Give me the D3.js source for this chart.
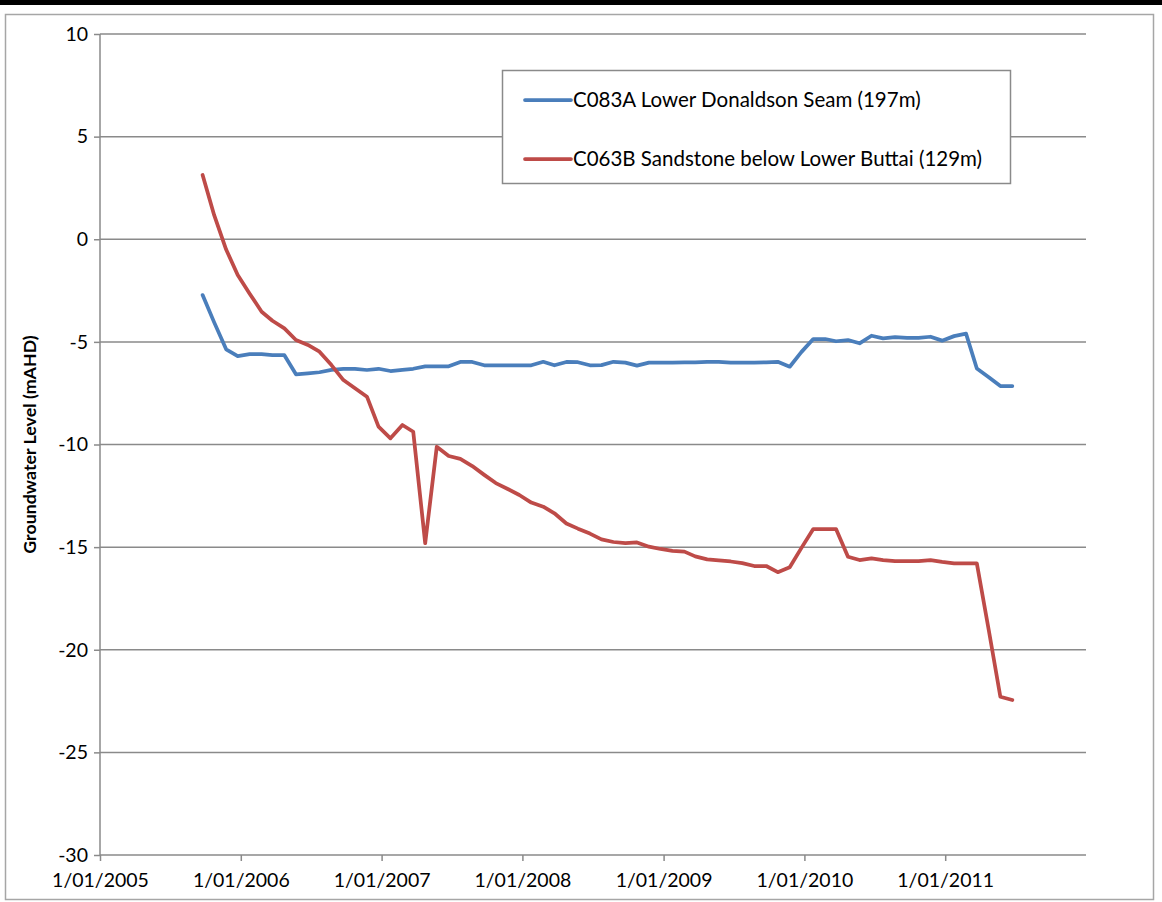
<!DOCTYPE html>
<html lang="en">
  <head>
    <meta charset="UTF-8" />
    <title>Groundwater Level</title>
    <script src="https://d3js.org/d3.v7.min.js"></script>
    <style>
      body {
        margin: 0;
        background: #fff;
        font-family: Lato, sans-serif;
      }
      .tick-label {
        font-size: 19.5px;
        fill: #000;
      }
      .axis-label {
        font-size: 17.8px;
        font-weight: bold;
      }
      .legend-text {
        font-size: 20.5px;
      }
    </style>
  </head>
  <body>
    <svg width="1162" height="902"></svg>

    <script>
      // monthly readings
      const dates = [
        '2005-09-24', '2005-10-24', '2005-11-24', '2005-12-24',
        '2006-01-24', '2006-02-24', '2006-03-24', '2006-04-24', '2006-05-24', '2006-06-24',
        '2006-07-24', '2006-08-24', '2006-09-24', '2006-10-24', '2006-11-24', '2006-12-24',
        '2007-01-24', '2007-02-24', '2007-03-24', '2007-04-24', '2007-05-24', '2007-06-24',
        '2007-07-24', '2007-08-24', '2007-09-24', '2007-10-24', '2007-11-24', '2007-12-24',
        '2008-01-24', '2008-02-24', '2008-03-24', '2008-04-24', '2008-05-24', '2008-06-24',
        '2008-07-24', '2008-08-24', '2008-09-24', '2008-10-24', '2008-11-24', '2008-12-24',
        '2009-01-24', '2009-02-24', '2009-03-24', '2009-04-24', '2009-05-24', '2009-06-24',
        '2009-07-24', '2009-08-24', '2009-09-24', '2009-10-24', '2009-11-24', '2009-12-24',
        '2010-01-24', '2010-02-24', '2010-03-24', '2010-04-24', '2010-05-24', '2010-06-24',
        '2010-07-24', '2010-08-24', '2010-09-24', '2010-10-24', '2010-11-24', '2010-12-24',
        '2011-01-24', '2011-02-24', '2011-03-24', '2011-04-24', '2011-05-24', '2011-06-24',
      ];

      const c083a = [
        -2.72, -4.05, -5.36, -5.69, -5.6, -5.6, -5.65, -5.65, -6.58, -6.53,
        -6.48, -6.36, -6.31, -6.31, -6.37, -6.31, -6.42, -6.36, -6.31, -6.19,
        -6.19, -6.19, -5.98, -5.98, -6.14, -6.14, -6.14, -6.14, -6.14, -5.97,
        -6.14, -5.98, -5.99, -6.14, -6.13, -5.97, -6.01, -6.16, -6.01, -6.01,
        -6.01, -6.0, -6.0, -5.97, -5.97, -6.01, -6.01, -6.01, -6.0, -5.97,
        -6.21, -5.5, -4.86, -4.86, -4.97, -4.91, -5.07, -4.7, -4.83, -4.77,
        -4.8, -4.8, -4.75, -4.94, -4.72, -4.6, -6.3, -6.72, -7.15, -7.15,
      ];

      const c063b = [
        3.13, 1.17, -0.5, -1.74, -2.65, -3.53, -3.97, -4.34, -4.91, -5.15,
        -5.48, -6.13, -6.86, -7.26, -7.67, -9.13, -9.7, -9.05, -9.38, -14.81,
        -10.11, -10.56, -10.7, -11.05, -11.48, -11.88, -12.17, -12.46, -12.83, -13.03,
        -13.35, -13.85, -14.1, -14.34, -14.62, -14.75, -14.81, -14.77, -14.98, -15.09,
        -15.18, -15.22, -15.45, -15.6, -15.65, -15.7, -15.78, -15.92, -15.92, -16.22,
        -15.98, -15.05, -14.12, -14.12, -14.12, -15.47, -15.63, -15.55, -15.63, -15.68,
        -15.68, -15.68, -15.63, -15.72, -15.79, -15.79, -15.79, -19.05, -22.29, -22.45,
      ];

      const seriesNames = [
        'C083A Lower Donaldson Seam (197m)',
        'C063B Sandstone below Lower Buttai (129m)',
      ];
      const seriesColors = ['#4a7ebb', '#be4b48'];
      const xTicks = [
        '2005-01-01', '2006-01-01', '2007-01-01', '2008-01-01',
        '2009-01-01', '2010-01-01', '2011-01-01',
      ];
      const yTicks = [10, 5, 0, -5, -10, -15, -20, -25, -30];

      const parse = d3.timeParse('%Y-%m-%d');
      const series = [c083a, c063b].map((vals, i) => ({
        name: seriesNames[i],
        color: seriesColors[i],
        points: vals.map((v, j) => ({ date: parse(dates[j]), value: v })),
      }));

      const svg = d3.select('svg');
      const plot = { left: 100, right: 1086, top: 34, bottom: 855 };

      const x = d3
        .scaleTime()
        .domain([parse('2005-01-01'), parse('2012-01-01')])
        .range([plot.left, plot.right]);

      const y = d3
        .scaleLinear()
        .domain([-30, 10])
        .range([plot.bottom, plot.top]);

      // page bar and chart frame
      svg
        .append('rect')
        .attr('x', 0)
        .attr('y', 0)
        .attr('width', 1162)
        .attr('height', 5)
        .attr('fill', '#000');

      svg
        .append('rect')
        .attr('x', 5.5)
        .attr('y', 14.5)
        .attr('width', 1148)
        .attr('height', 885)
        .attr('fill', '#fff')
        .attr('stroke', '#a6a6a6')
        .attr('stroke-width', 1.5);

      // gridlines
      svg
        .append('g')
        .selectAll('line')
        .data(yTicks.filter((t) => t > -30))
        .enter()
        .append('line')
        .attr('x1', plot.left)
        .attr('x2', plot.right)
        .attr('y1', (d) => y(d))
        .attr('y2', (d) => y(d))
        .attr('stroke', '#8a8a8a')
        .attr('stroke-width', 1.5);

      // y axis (plain hyphen minus like Excel)
      const yAxis = svg
        .append('g')
        .attr('transform', `translate(${plot.left},0)`)
        .call(
          d3
            .axisLeft(y)
            .tickValues(yTicks)
            .tickFormat((d) => String(d))
            .tickSize(6)
            .tickPadding(6),
        );

      // x axis
      const xAxis = svg
        .append('g')
        .attr('transform', `translate(0,${plot.bottom})`)
        .call(
          d3
            .axisBottom(x)
            .tickValues(xTicks.map(parse))
            .tickFormat(d3.timeFormat('%-d/%m/%Y'))
            .tickSize(6)
            .tickPadding(12),
        );

      [yAxis, xAxis].forEach((g) => {
        g.select('.domain').attr('stroke', '#8a8a8a').attr('stroke-width', 1.5);
        g.selectAll('.tick line')
          .attr('stroke', '#8a8a8a')
          .attr('stroke-width', 1.5);
        g.selectAll('.tick text')
          .attr('class', 'tick-label')
          .style('font-family', 'Lato, sans-serif');
      });
      yAxis.select('.domain').attr('d', `M0,${plot.bottom}V${plot.top}`);
      xAxis.select('.domain').attr('d', `M${plot.left},0H${plot.right}`);

      svg
        .append('text')
        .attr('class', 'axis-label')
        .attr('transform', 'rotate(-90)')
        .attr('x', -(plot.top + plot.bottom) / 2)
        .attr('y', 36)
        .attr('text-anchor', 'middle')
        .text('Groundwater Level (mAHD)');

      // lines
      const line = d3
        .line()
        .x((d) => x(d.date))
        .y((d) => y(d.value));

      svg
        .append('g')
        .selectAll('path')
        .data(series)
        .enter()
        .append('path')
        .attr('d', (d) => line(d.points))
        .attr('fill', 'none')
        .attr('stroke', (d) => d.color)
        .attr('stroke-width', 3.75)
        .attr('stroke-linejoin', 'round')
        .attr('stroke-linecap', 'round');

      // legend
      const legend = svg.append('g');
      legend
        .append('rect')
        .attr('x', 502.5)
        .attr('y', 70.5)
        .attr('width', 508)
        .attr('height', 113)
        .attr('fill', '#fff')
        .attr('stroke', '#8a8a8a')
        .attr('stroke-width', 1.5);

      const items = legend
        .selectAll('g.item')
        .data(series)
        .enter()
        .append('g')
        .attr('class', 'item')
        .attr('transform', (d, i) => `translate(525,${100 + i * 59})`);

      items
        .append('line')
        .attr('x1', 0)
        .attr('x2', 46)
        .attr('stroke', (d) => d.color)
        .attr('stroke-width', 3.75)
        .attr('stroke-linecap', 'round');

      items
        .append('text')
        .attr('class', 'legend-text')
        .attr('x', 48)
        .attr('y', 7)
        .text((d) => d.name);
    </script>
  </body>
</html>
